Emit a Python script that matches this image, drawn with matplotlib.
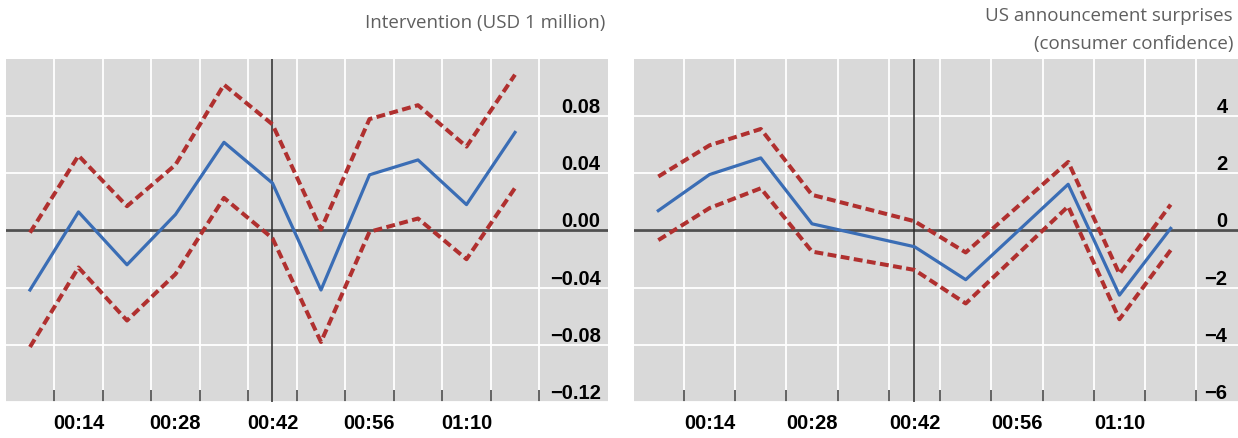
import matplotlib
matplotlib.use("Agg")
import matplotlib.pyplot as plt

plt.rcParams['font.family'] = ['Liberation Sans', 'DejaVu Sans']

# ---------------- data ----------------
# minutes after the event
times_left = [7, 14, 21, 28, 35, 42, 49, 56, 63, 70, 77]
int_mid = [-0.0416, 0.0129, -0.0240, 0.0111, 0.0615, 0.0330, -0.0416, 0.0388, 0.0492, 0.0180, 0.0684]
int_upper = [-0.0016, 0.0522, 0.0169, 0.0458, 0.1017, 0.0740, 0.0007, 0.0777, 0.0874, 0.0585, 0.1087]
int_lower = [-0.0814, -0.0259, -0.0629, -0.0305, 0.0227, -0.0055, -0.0779, -0.0010, 0.0083, -0.0201, 0.0296]

times_right = [7, 14, 21, 28, 42, 49, 63, 70, 77]
us_mid = [0.69, 1.95, 2.53, 0.23, -0.57, -1.72, 1.61, -2.26, 0.07]
us_upper = [1.88, 2.97, 3.54, 1.24, 0.32, -0.77, 2.39, -1.52, 0.90]
us_lower = [-0.34, 0.78, 1.47, -0.74, -1.38, -2.55, 0.84, -3.10, -0.69]

label_times = [14, 28, 42, 56, 70]
label_strs = ["00:14", "00:28", "00:42", "00:56", "01:10"]
boundary_times = [10.5, 17.5, 24.5, 31.5, 38.5, 45.5, 52.5, 59.5, 66.5, 73.5, 80.5]

left_yticks = [-0.12, -0.08, -0.04, 0.00, 0.04, 0.08]
left_ylabels = ["\u22120.12", "\u22120.08", "\u22120.04", "0.00", "0.04", "0.08"]
right_yticks = [-6, -4, -2, 0, 2, 4]
right_ylabels = ["\u22126", "\u22124", "\u22122", "0", "2", "4"]

left_title = ["Intervention (USD 1 million)"]
right_title = ["US announcement surprises", "(consumer confidence)"]

# ---------------- style ----------------
BG = '#D9D9D9'
BLUE = '#3A6DB5'
RED = '#B0302F'
W, H = 1238, 439

fig = plt.figure(figsize=(W / 100, H / 100), dpi=100)


def make_panel(rect, xlim, ylim, yticks, ylabels, times, mid, up, lo, ypad):
    ax = fig.add_axes(rect)
    ax.set_facecolor(BG)
    for s in ax.spines.values():
        s.set_visible(False)
    ax.set_xlim(*xlim)
    ax.set_ylim(*ylim)
    ax.set_axisbelow(True)

    ax.set_xticks(boundary_times)
    ax.set_xticks(label_times, minor=True)
    ax.set_xticklabels(label_strs, minor=True, fontweight='bold', fontsize=14.5)
    ax.tick_params(axis='x', which='major', direction='in', length=8.6, width=1.1,
                   color='#3a3a3a', labelbottom=False)
    ax.tick_params(axis='x', which='minor', length=0, pad=8.0)
    ax.grid(True, which='major', axis='both', color='white', lw=1.3)

    ax.yaxis.set_ticks_position('right')
    ax.set_yticks(yticks)
    ax.set_yticklabels(ylabels, ha='right', va='bottom', fontweight='bold', fontsize=14.5)
    ax.tick_params(axis='y', length=0, pad=ypad)

    ax.axhline(0, color='#505050', lw=2.0, zorder=2)
    ax.axvline(42, color='#2b2b2b', lw=1.1, zorder=2)

    ax.plot(times, up, color=RED, lw=2.9, dashes=(2.2, 1.1), solid_capstyle='butt',
            dash_capstyle='butt', zorder=3)
    ax.plot(times, lo, color=RED, lw=2.9, dashes=(2.2, 1.1), solid_capstyle='butt',
            dash_capstyle='butt', zorder=3)
    ax.plot(times, mid, color=BLUE, lw=2.3, zorder=4)
    return ax


ax_bottom = 1 - 403.3 / H
ax_height = (403.3 - 59.5) / H

make_panel([6 / W, ax_bottom, (607.5 - 6) / W, ax_height], (3.54, 90.35), (-0.12, 0.12),
           left_yticks, left_ylabels, times_left, int_mid, int_upper, int_lower, -5.0)
make_panel([634.3 / W, ax_bottom, (W - 634.3) / W, ax_height], (3.72, 86.2), (-6, 6),
           right_yticks, right_ylabels, times_right, us_mid, us_upper, us_lower, -7.6)

TCOL = '#5f5f5f'
for i, line in enumerate(left_title):
    fig.text(605 / W, 1 - (23 + 28 * i) / H, line, ha='right', va='center',
             family=['Open Sans', 'DejaVu Sans'], fontsize=13.5, color=TCOL)
for i, line in enumerate(right_title):
    fig.text(1233 / W, 1 - (16 + 28.5 * i) / H, line, ha='right', va='center',
             family=['Open Sans', 'DejaVu Sans'], fontsize=13.5, color=TCOL)

fig.savefig("out.png", dpi=100)
